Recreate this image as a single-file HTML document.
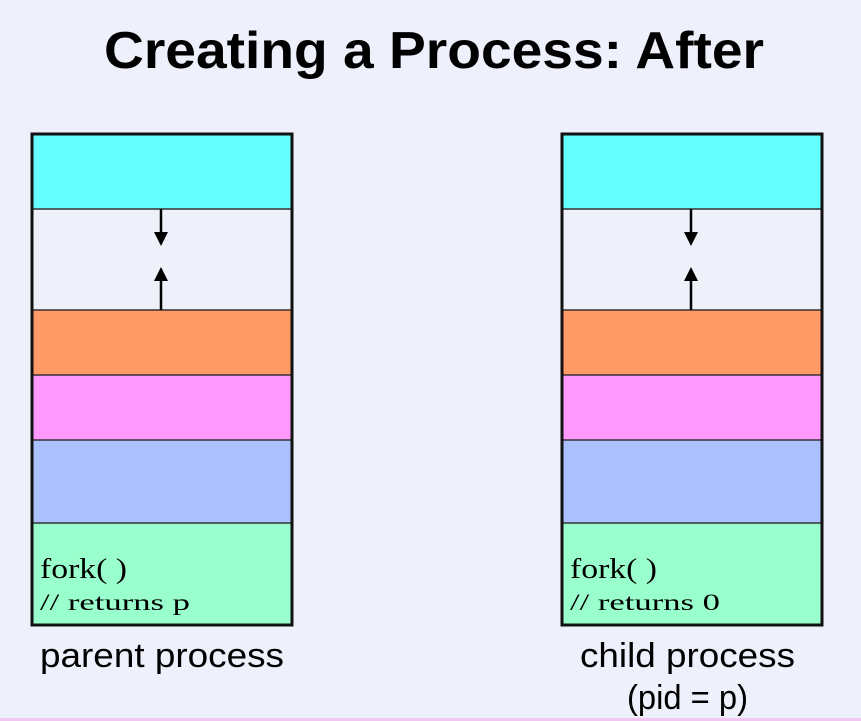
<!DOCTYPE html>
<html><head><meta charset="utf-8"><style>
html,body{margin:0;padding:0;background:#eef0fc;}
svg{display:block;}
</style></head><body>
<svg width="861" height="721" viewBox="0 0 861 721" xmlns="http://www.w3.org/2000/svg">
<rect width="861" height="721" fill="#eef0fc"/>
<rect x="0" y="718" width="861" height="3" fill="#f0c8f0"/>
<text x="434" y="68" text-anchor="middle" font-family="Liberation Sans, sans-serif" font-weight="bold" font-size="52" textLength="660" lengthAdjust="spacingAndGlyphs" fill="#000">Creating a Process: After</text>
<defs>
<g id="stack">
<rect x="0" y="0" width="260" height="75" fill="#66ffff"/>
<rect x="0" y="75" width="260" height="101" fill="#eef0fa"/>
<rect x="0" y="176" width="260" height="65" fill="#ff9966"/>
<rect x="0" y="241" width="260" height="65" fill="#ff99ff"/>
<rect x="0" y="306" width="260" height="83" fill="#aac0ff"/>
<rect x="0" y="389" width="260" height="102" fill="#99ffcc"/>
<g stroke="#333" stroke-width="1.5">
<line x1="0" y1="75" x2="260" y2="75"/>
<line x1="0" y1="176" x2="260" y2="176"/>
<line x1="0" y1="241" x2="260" y2="241"/>
<line x1="0" y1="306" x2="260" y2="306"/>
<line x1="0" y1="389" x2="260" y2="389"/>
</g>
<rect x="0" y="0" width="260" height="491" fill="none" stroke="#111" stroke-width="3"/>
<line x1="129" y1="75" x2="129" y2="100" stroke="#000" stroke-width="2.5"/>
<polygon points="122,98 136,98 129,112" fill="#000"/>
<line x1="129" y1="176" x2="129" y2="146" stroke="#000" stroke-width="2.5"/>
<polygon points="122,147 136,147 129,133" fill="#000"/>
<text x="8" y="444" font-family="Liberation Serif, serif" font-size="29" textLength="87" lengthAdjust="spacingAndGlyphs" fill="#000">fork( )</text>
</g>
</defs>
<g transform="translate(32,134)"><use href="#stack"/>
<text x="8" y="476" font-family="Liberation Serif, serif" font-size="23" textLength="150" lengthAdjust="spacingAndGlyphs" fill="#000">// returns p</text></g>
<g transform="translate(562,134)"><use href="#stack"/>
<text x="8" y="476" font-family="Liberation Serif, serif" font-size="23" textLength="150" lengthAdjust="spacingAndGlyphs" fill="#000">// returns 0</text></g>
<text x="40" y="667" font-family="Liberation Sans, sans-serif" font-size="34" textLength="244" lengthAdjust="spacingAndGlyphs" fill="#000">parent process</text>
<text x="580" y="667" font-family="Liberation Sans, sans-serif" font-size="34" textLength="215" lengthAdjust="spacingAndGlyphs" fill="#000">child process</text>
<text x="627" y="709" font-family="Liberation Sans, sans-serif" font-size="34" textLength="121" lengthAdjust="spacingAndGlyphs" fill="#000">(pid = p)</text>
</svg>
</body></html>
